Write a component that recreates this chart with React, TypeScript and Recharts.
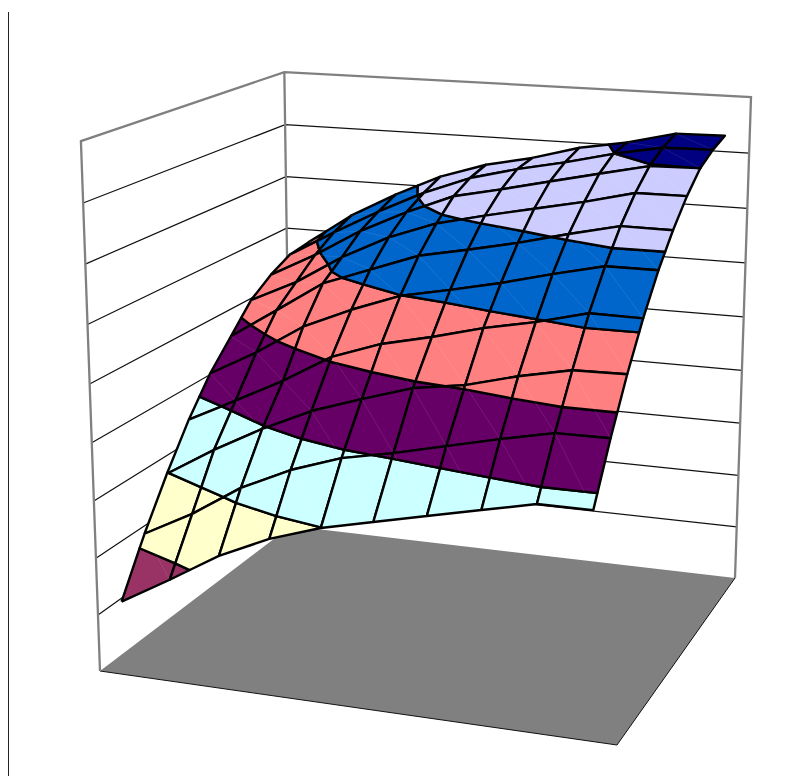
import React from 'react';
import { ScatterChart, Scatter, XAxis, YAxis } from 'recharts';

// Surface heights on a 10 x 10 grid; rows run from the front of the box to the back.
const row0 = [0.1437, 0.1987, 0.2566, 0.3004, 0.3324, 0.3548, 0.377, 0.399, 0.4208, 0.4211];
const row1 = [0.2435, 0.2939, 0.355, 0.3998, 0.4327, 0.4523, 0.4754, 0.4982, 0.519, 0.5199];
const row2 = [0.3315, 0.3891, 0.4399, 0.4841, 0.5164, 0.5464, 0.5611, 0.5868, 0.6067, 0.6084];
const row3 = [0.411, 0.4584, 0.507, 0.5625, 0.5961, 0.6178, 0.6431, 0.6626, 0.6873, 0.6861];
const row4 = [0.4777, 0.5289, 0.5889, 0.6304, 0.6655, 0.6848, 0.7058, 0.7302, 0.7526, 0.7526];
const row5 = [0.529, 0.5901, 0.6523, 0.6876, 0.7223, 0.7412, 0.7618, 0.7859, 0.8079, 0.8071];
const row6 = [0.5806, 0.6255, 0.6839, 0.7312, 0.7661, 0.7884, 0.8087, 0.8288, 0.8524, 0.8529];
const row7 = [0.6114, 0.6607, 0.7174, 0.763, 0.8018, 0.8221, 0.8442, 0.8659, 0.887, 0.889];
const row8 = [0.6334, 0.6873, 0.7382, 0.784, 0.821, 0.8454, 0.8653, 0.8885, 0.9066, 0.9083];
const row9 = [0.6395, 0.7047, 0.7559, 0.8001, 0.8312, 0.8515, 0.8785, 0.8954, 0.919, 0.9204];
const surfaceRows = [row0, row1, row2, row3, row4, row5, row6, row7, row8, row9];

// One fill per height band, lowest band first.
const bandColors = ['#9999FF', '#993366', '#FFFFCC', '#CCFFFF', '#660066', '#FF8080', '#0066CC', '#CCCCFF', '#000080'];
const bandCount = bandColors.length;

type Pt = { x: number; y: number };
type Vertex = Pt & { z: number };

// Perspective camera: unit box (u along the front, v into the depth, z upward) to plot units.
const project = (u: number, v: number, z: number): Pt => {
  const w = 1 - 0.07439 * u + 0.18418 * v - 0.055 * z;
  const rise = 537.7 + 3.8 * v - 2.5 * u * v;
  return {
    x: (471.1 * u + 244.6 * v + 100 - 23.54 * z) / w,
    y: (18.58 * u - 48.12 * v + 671 - rise * z) / w,
  };
};

const columnU = (c: number) => 0.05 + (c * 0.9) / 9;
const rowV = (r: number) => r / 9;

const gridVertex = (r: number, c: number): Vertex => {
  const z = surfaceRows[r][c];
  return { ...project(columnU(c), rowV(r), z), z };
};

// Clips a cell outline to one side of a height level, interpolating along its edges.
const clipAt = (poly: Vertex[], level: number, keepAbove: boolean): Vertex[] => {
  const inside = (p: Vertex) => (keepAbove ? p.z >= level : p.z <= level);
  const out: Vertex[] = [];
  poly.forEach((p, i) => {
    const q = poly[(i + 1) % poly.length];
    if (inside(p)) out.push(p);
    if (inside(p) !== inside(q)) {
      const t = (level - p.z) / (q.z - p.z);
      out.push({ x: p.x + t * (q.x - p.x), y: p.y + t * (q.y - p.y), z: level });
    }
  });
  return out;
};

const closed = (pts: Pt[]): Pt[] => [...pts.map((p) => ({ x: p.x, y: p.y })), { x: pts[0].x, y: pts[0].y }];

// Band polygons, painted back to front so nearer cells cover farther ones.
// Each cell also carries the faint seam left between its two triangles.
type SurfacePiece = { points: Pt[]; fill?: string };
const surfacePieces: SurfacePiece[] = [];
for (let r = surfaceRows.length - 2; r >= 0; r--) {
  for (let c = 0; c < row0.length - 1; c++) {
    const cell = [gridVertex(r, c), gridVertex(r, c + 1), gridVertex(r + 1, c + 1), gridVertex(r + 1, c)];
    for (let b = 0; b < bandCount; b++) {
      const part = clipAt(clipAt(cell, b / bandCount, true), (b + 1) / bandCount, false);
      if (part.length >= 3) surfacePieces.push({ points: closed(part), fill: bandColors[b] });
    }
    surfacePieces.push({ points: [cell[3], cell[1]].map((p) => ({ x: p.x, y: p.y })) });
  }
}

const gridLevels = [1, 2, 3, 4, 5, 6, 7, 8].map((k) => k / bandCount);
const floorOutline = closed([project(0, 0, 0), project(1, 0, 0), project(1, 1, 0), project(0, 1, 0)]);
const floorFrontEdges = [project(0, 0, 0), project(1, 0, 0), project(1, 1, 0)];
const wallFrame = [
  [project(0, 0, 0), project(0, 0, 1), project(0, 1, 1), project(1, 1, 1), project(1, 1, 0)],
  [project(0, 1, 0), project(0, 1, 1)],
];
const wallGridlines = gridLevels.map((z) => [project(0, 0, z), project(0, 1, z), project(1, 1, z)]);
const chartEdge: Pt[] = [
  { x: 8.5, y: 12 },
  { x: 8.5, y: 776 },
];

const hidden = () => null;

export default function App() {
  return (
    <div style={{ position: 'absolute', left: 0, top: 0, width: 801, height: 776, background: '#fff' }}>
      <ScatterChart width={801} height={776} margin={{ top: 0, right: 0, bottom: 0, left: 0 }}>
        <XAxis type="number" dataKey="x" domain={[0, 801]} hide allowDataOverflow />
        <YAxis type="number" dataKey="y" domain={[0, 776]} reversed hide allowDataOverflow />
        <Scatter data={chartEdge} shape={hidden} isAnimationActive={false} line={{ stroke: '#222', strokeWidth: 1 }} />
        {wallGridlines.map((pts, i) => (
          <Scatter key={`grid-${i}`} data={pts} shape={hidden} isAnimationActive={false} line={{ stroke: '#111', strokeWidth: 1.2 }} />
        ))}
        <Scatter data={floorOutline} shape={hidden} isAnimationActive={false} line={{ fill: '#808080', stroke: 'none' }} />
        <Scatter data={floorFrontEdges} shape={hidden} isAnimationActive={false} line={{ stroke: '#111', strokeWidth: 1 }} />
        {wallFrame.map((pts, i) => (
          <Scatter key={`frame-${i}`} data={pts} shape={hidden} isAnimationActive={false} line={{ stroke: '#808080', strokeWidth: 2.3 }} />
        ))}
        {surfacePieces.map((piece, i) =>
          piece.fill ? (
            <Scatter
              key={`cell-${i}`}
              data={piece.points}
              shape={hidden}
              isAnimationActive={false}
              line={{ fill: piece.fill, stroke: '#000', strokeWidth: 2.4, strokeLinejoin: 'round' }}
            />
          ) : (
            <Scatter
              key={`seam-${i}`}
              data={piece.points}
              shape={hidden}
              isAnimationActive={false}
              line={{ stroke: '#fff', strokeOpacity: 0.16, strokeWidth: 0.6 }}
            />
          ),
        )}
      </ScatterChart>
    </div>
  );
}
